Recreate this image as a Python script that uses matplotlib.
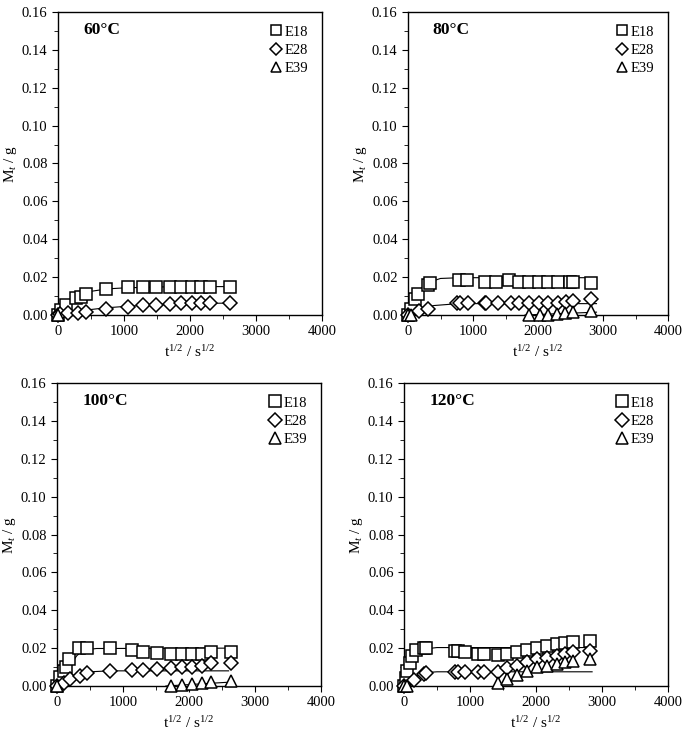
import matplotlib
matplotlib.use("Agg")
import matplotlib.pyplot as plt
from matplotlib.ticker import MultipleLocator, FormatStrFormatter

plt.rcParams['font.family'] = ['Liberation Serif', 'DejaVu Serif']
plt.rcParams['mathtext.fontset'] = 'custom'
plt.rcParams['mathtext.rm'] = 'Liberation Serif'
plt.rcParams['mathtext.it'] = 'Liberation Serif:italic'

temps = ['60°C', '80°C', '100°C', '120°C']
names = ['E18', 'E28', 'E39']
markers = ['s', 'D', '^']

# measured points, per panel: x (t^1/2 / s^1/2) and y (Mt / g)
e18_x = [
    [0, 50, 126, 278, 354, 430, 732, 1060, 1288, 1490, 1692, 1869, 2035, 2172, 2298, 2601],
    [0, 50, 100, 150, 300, 337, 779, 905, 1181, 1357, 1558, 1709, 1859, 2010, 2161, 2312, 2487, 2538, 2814],
    [0, 50, 100, 130, 177, 330, 450, 810, 1140, 1310, 1515, 1720, 1890, 2045, 2200, 2340, 2640],
    [0, 25, 50, 85, 125, 175, 300, 333, 771, 821, 920, 1119, 1219, 1418, 1567, 1716, 1866, 2015, 2164, 2313, 2438, 2562, 2811],
]
e18_y = [
    [0, 0.0027, 0.0053, 0.0088, 0.0097, 0.011, 0.0136, 0.0147, 0.015, 0.015, 0.015, 0.015, 0.015, 0.015, 0.015, 0.015],
    [0, 0.0031, 0.0083, 0.011, 0.016, 0.0169, 0.0183, 0.0183, 0.0176, 0.0176, 0.0183, 0.0174, 0.0174, 0.0174, 0.0174, 0.0174, 0.0174, 0.0174, 0.0169],
    [0, 0.005, 0.008, 0.01, 0.014, 0.02, 0.02, 0.02, 0.019, 0.018, 0.0175, 0.017, 0.017, 0.017, 0.017, 0.0177, 0.018],
    [0, 0.004, 0.008, 0.012, 0.016, 0.019, 0.02, 0.02, 0.0185, 0.0185, 0.018, 0.017, 0.017, 0.0165, 0.017, 0.018, 0.019, 0.02, 0.021, 0.022, 0.0225, 0.0233, 0.024],
]
e28_x = [
    [0, 25, 150, 300, 430, 732, 1060, 1288, 1490, 1692, 1869, 2035, 2172, 2298, 2601],
    [0, 175, 300, 754, 804, 930, 1181, 1206, 1382, 1583, 1709, 1859, 2010, 2161, 2312, 2437, 2538, 2814],
    [0, 100, 200, 350, 450, 810, 1140, 1310, 1515, 1720, 1890, 2045, 2200, 2340, 2640],
    [0, 150, 300, 333, 771, 821, 920, 1119, 1219, 1418, 1567, 1716, 1866, 2015, 2164, 2313, 2438, 2562, 2811],
]
e28_y = [
    [0, 0.0005, 0.0009, 0.0012, 0.0018, 0.0034, 0.0044, 0.0053, 0.0055, 0.0058, 0.0062, 0.0062, 0.0062, 0.0062, 0.0065],
    [0, 0.0022, 0.0034, 0.0062, 0.0062, 0.0062, 0.0066, 0.0066, 0.0066, 0.0066, 0.0066, 0.0066, 0.0066, 0.0066, 0.0066, 0.0068, 0.0074, 0.0086],
    [0, 0.0015, 0.0035, 0.0055, 0.0068, 0.008, 0.0087, 0.0087, 0.009, 0.0095, 0.0098, 0.01, 0.0108, 0.012, 0.012],
    [0, 0.003, 0.0065, 0.007, 0.0072, 0.0072, 0.0072, 0.0072, 0.0072, 0.0075, 0.0095, 0.0107, 0.0125, 0.0142, 0.015, 0.016, 0.0168, 0.0177, 0.0186],
]
e39_x = [
    [0],
    [0, 50, 1859, 2035, 2161, 2286, 2412, 2538, 2814],
    [0, 1720, 1890, 2045, 2200, 2340, 2640],
    [0, 50, 1418, 1567, 1716, 1866, 2015, 2164, 2313, 2438, 2562, 2811],
]
e39_y = [
    [0],
    [0, 0, 0, 0, 0, 0.0005, 0.001, 0.0015, 0.0022],
    [0, 0, 0.0005, 0.001, 0.0015, 0.002, 0.0025],
    [0, 0, 0.0014, 0.0037, 0.006, 0.0077, 0.0098, 0.0107, 0.0116, 0.0125, 0.0133, 0.0142],
]

# fitted curves drawn under the points
fit_x = [
    [[0, 100, 200, 300, 500, 750, 1000, 1500, 2000, 2600],
     [0, 200, 400, 700, 1000, 1500, 2000, 2600],
     None],
    [[0, 100, 200, 300, 500, 800, 2900],
     [0, 100, 200, 400, 700, 1000, 2900],
     [1800, 2900]],
    [[0, 100, 200, 300, 400, 600, 2650],
     [0, 100, 300, 500, 800, 2600],
     [1650, 2600]],
    [[0, 100, 200, 300, 500, 2850],
     [0, 100, 200, 300, 500, 2850],
     None],
]
fit_y = [
    [[0, 0.005, 0.008, 0.010, 0.0125, 0.0138, 0.0143, 0.0148, 0.015, 0.015],
     [0, 0.0012, 0.0025, 0.0037, 0.0045, 0.0055, 0.006, 0.0063],
     None],
    [[0, 0.009, 0.014, 0.017, 0.0193, 0.0197, 0.0197],
     [0, 0.002, 0.0035, 0.005, 0.0058, 0.006, 0.006],
     [0, 0.0015]],
    [[0, 0.005, 0.011, 0.016, 0.019, 0.0198, 0.02],
     [0, 0.002, 0.006, 0.0075, 0.008, 0.008],
     [0, 0.002]],
    [[0, 0.01, 0.017, 0.0195, 0.0203, 0.0203],
     [0, 0.003, 0.0055, 0.007, 0.0075, 0.0075],
     None],
]

W, H = 685, 737
fig = plt.figure(figsize=(W / 100, H / 100), dpi=100)
# axes boxes in pixels: left, top, right, bottom
boxes = [(58, 12, 322, 315), (408, 12, 668, 315), (57, 383, 321, 686), (404, 383, 668, 686)]

for i in range(4):
    l, t, r, b = boxes[i]
    ax = fig.add_axes([l / W, 1 - b / H, (r - l) / W, (b - t) / H])
    xs = [e18_x[i], e28_x[i], e39_x[i]]
    ys = [e18_y[i], e28_y[i], e39_y[i]]
    for k in range(3):
        if fit_x[i][k] is not None:
            ax.plot(fit_x[i][k], fit_y[i][k], color='k', lw=0.8, zorder=2)
    for k in range(3):
        ms = 7.5 if markers[k] == 'D' else 9
        ax.plot(xs[k], ys[k], linestyle='none', marker=markers[k], ms=ms,
                mfc='white', mec='k', mew=1.1, label=names[k], zorder=3, clip_on=False)
    ax.set_xlim(0, 4000)
    ax.set_ylim(0, 0.16)
    ax.xaxis.set_major_locator(MultipleLocator(1000))
    ax.xaxis.set_minor_locator(MultipleLocator(500))
    ax.yaxis.set_major_locator(MultipleLocator(0.02))
    ax.yaxis.set_minor_locator(MultipleLocator(0.01))
    ax.yaxis.set_major_formatter(FormatStrFormatter('%.2f'))
    ax.tick_params(which='both', direction='out', top=False, right=False, labelsize=10.5)
    ax.tick_params(which='major', length=4)
    ax.tick_params(which='minor', length=3)
    for s in ax.spines.values():
        s.set_linewidth(1.0)
    ax.set_xlabel(r'$\mathrm{t}^{1/2}$ / $\mathrm{s}^{1/2}$', fontsize=11, labelpad=4)
    ax.set_ylabel(r'$\mathrm{M}_t$ / g', fontsize=11, labelpad=2)
    ax.text(0.095, 0.94, temps[i], transform=ax.transAxes, fontsize=12.5,
            fontweight='bold', va='center')
    ax.legend(loc='upper right', bbox_to_anchor=(0.98, 0.985), frameon=False,
              fontsize=10.5, handlelength=0.6, handletextpad=0.3, labelspacing=0.35,
              markerscale=0.75 if i < 2 else 1.0, borderaxespad=0.2)

fig.savefig('out.png', dpi=100)
